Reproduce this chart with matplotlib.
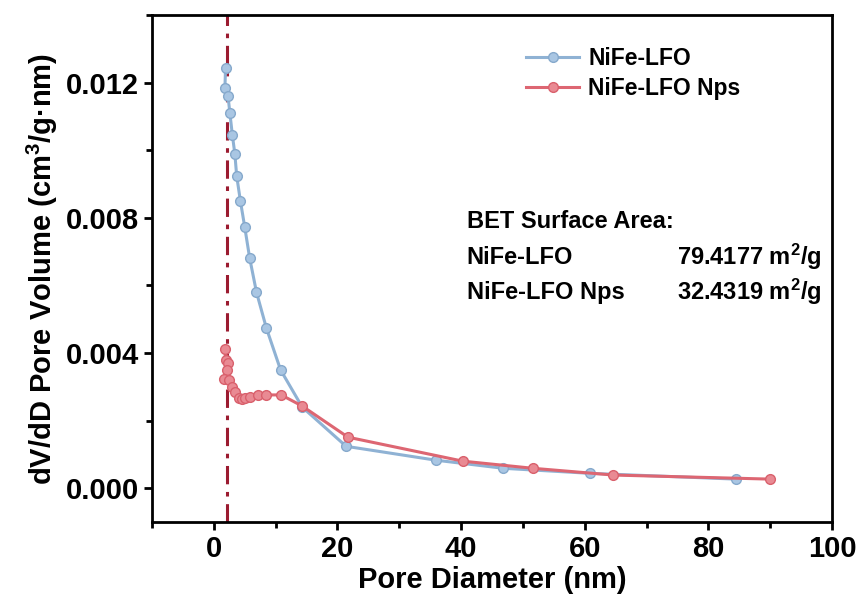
import matplotlib
matplotlib.use("Agg")
import matplotlib.pyplot as plt
from matplotlib.ticker import MultipleLocator

plt.rcParams["font.family"] = ["Liberation Sans", "DejaVu Sans"]
plt.rcParams["font.weight"] = "bold"
plt.rcParams["mathtext.fontset"] = "custom"
plt.rcParams["mathtext.rm"] = "Liberation Sans:bold"
plt.rcParams["mathtext.bf"] = "Liberation Sans:bold"
plt.rcParams["mathtext.default"] = "bf"

# NiFe-LFO
lfo_x = [1.9, 1.8, 2.3, 2.6, 3.0, 3.4, 3.7, 4.3, 5.0, 5.8, 6.9, 8.5, 10.8, 14.3, 21.4, 35.9, 46.8, 60.9, 84.4]
lfo_y = [0.01244, 0.01185, 0.0116, 0.0111, 0.01045, 0.0099, 0.00924, 0.0085, 0.00773, 0.00681,
         0.0058, 0.00474, 0.0035, 0.0024, 0.00124, 0.00083, 0.00059, 0.00044, 0.00027]

# NiFe-LFO Nps
nps_x = [1.8, 1.9, 2.3, 2.1, 1.6, 2.5, 3.0, 3.5, 4.0, 4.5, 5.0, 5.8, 7.1, 8.5, 10.9, 14.3, 21.7, 40.3, 51.6, 64.6, 89.9]
nps_y = [0.00412, 0.0038, 0.0037, 0.0035, 0.00323, 0.0032, 0.003, 0.00285, 0.00267, 0.00265, 0.00267, 0.0027,
         0.00276, 0.00276, 0.00276, 0.00243, 0.00151, 0.0008, 0.00059, 0.00039, 0.00027]

peak_x = 2.2

fig = plt.figure(figsize=(8.62, 6.08), dpi=100)
ax = fig.add_axes([0.1763, 0.1414, 0.789, 0.834])

ax.plot(lfo_x, lfo_y, "-o", color="#8fb2d4", lw=2.2, ms=7,
        mfc="#a9c6e3", mec="#86a9cc", mew=1, label="NiFe-LFO", zorder=3)
ax.plot(nps_x, nps_y, "-o", color="#dd6672", lw=2.2, ms=7,
        mfc="#e98a93", mec="#d9606c", mew=1, label="NiFe-LFO Nps", zorder=3)
ax.axvline(peak_x, color="#9b1b30", lw=2.2, ls=(0, (6, 2.5, 1.5, 2.5)), zorder=2)

ax.set_xlim(-10, 100)
ax.set_ylim(-0.001, 0.014)
ax.xaxis.set_major_locator(MultipleLocator(20))
ax.xaxis.set_minor_locator(MultipleLocator(10))
ax.yaxis.set_minor_locator(MultipleLocator(0.002))
ax.set_yticks([0.0, 0.004, 0.008, 0.012])
ax.set_yticklabels(["0.000", "0.004", "0.008", "0.012"])
ax.tick_params(which="major", length=6, width=2, labelsize=21, direction="out")
ax.tick_params(which="minor", length=4, width=2, direction="out")
for s in ax.spines.values():
    s.set_linewidth(2)

ax.set_xlabel("Pore Diameter (nm)", fontsize=21, fontweight="bold", labelpad=2)
ax.set_ylabel(r"dV/dD Pore Volume (cm$^{3}$/g·nm)", fontsize=21, fontweight="bold", labelpad=4)

ax.legend(loc="upper left", bbox_to_anchor=(0.52, 0.977), frameon=False, fontsize=16.5,
          handlelength=2.3, handletextpad=0.4, labelspacing=0.3)

ax.text(0.463, 0.593, "BET Surface Area:", transform=ax.transAxes, fontsize=17, fontweight="bold", va="center")
ax.text(0.463, 0.522, "NiFe-LFO", transform=ax.transAxes, fontsize=17, fontweight="bold", va="center")
ax.text(0.772, 0.522, r"79.4177 m$^{2}$/g", transform=ax.transAxes, fontsize=17, fontweight="bold", va="center")
ax.text(0.463, 0.453, "NiFe-LFO Nps", transform=ax.transAxes, fontsize=17, fontweight="bold", va="center")
ax.text(0.772, 0.453, r"32.4319 m$^{2}$/g", transform=ax.transAxes, fontsize=17, fontweight="bold", va="center")

fig.savefig("out.png", dpi=100)
